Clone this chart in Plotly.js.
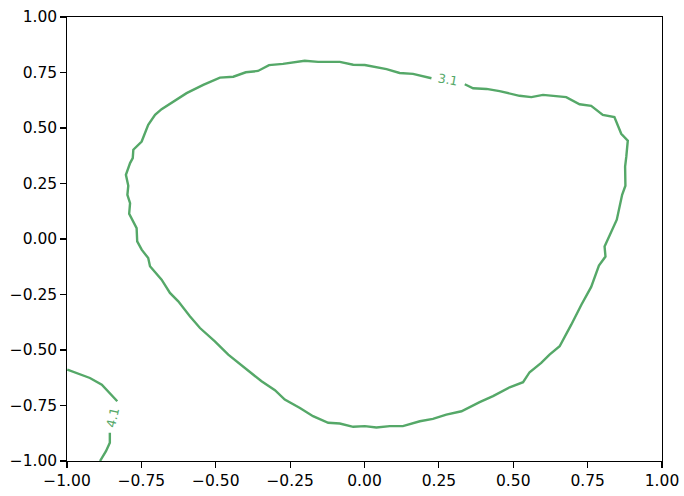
<!DOCTYPE html>
<html>
<head>
<meta charset="utf-8">
<script src="https://cdn.plot.ly/plotly-3.0.1.min.js"></script>
<style>
  html, body { margin: 0; padding: 0; background: #ffffff; }
  #chart { width: 684px; height: 496px; }
</style>
</head>
<body>
<div id="chart"></div>
<script>
// contour levels shown in the labels
const levels = [3.1, 4.1];

// level 3.1 contour (open at the label)
const ringX = [0.337, 0.365, 0.410, 0.454, 0.521, 0.561, 0.600, 0.678, 0.723, 0.762,
  0.801, 0.840, 0.863, 0.885, 0.880, 0.876, 0.877, 0.866, 0.848, 0.829,
  0.807, 0.810, 0.788, 0.762, 0.729, 0.695, 0.656, 0.622, 0.594, 0.555,
  0.533, 0.488, 0.432, 0.387, 0.326, 0.275, 0.230, 0.186, 0.129, 0.085,
  0.040, 0.001, -0.038, -0.083, -0.122, -0.173, -0.217, -0.268, -0.301, -0.346,
  -0.396, -0.458, -0.503, -0.553, -0.587, -0.626, -0.654, -0.682, -0.721, -0.727,
  -0.749, -0.764, -0.766, -0.777, -0.791, -0.788, -0.797, -0.794, -0.802, -0.788,
  -0.779, -0.777, -0.749, -0.727, -0.704, -0.682, -0.643, -0.598, -0.542, -0.486,
  -0.441, -0.399, -0.358, -0.321, -0.274, -0.201, -0.156, -0.083, -0.038, 0.001,
  0.074, 0.118, 0.163, 0.225];
const ringY = [0.697, 0.679, 0.676, 0.666, 0.645, 0.639, 0.649, 0.639, 0.607, 0.600,
  0.559, 0.549, 0.474, 0.443, 0.371, 0.326, 0.240, 0.199, 0.087, 0.034,
  -0.034, -0.079, -0.120, -0.216, -0.296, -0.386, -0.483, -0.521, -0.558, -0.600,
  -0.645, -0.668, -0.708, -0.735, -0.776, -0.791, -0.810, -0.821, -0.843, -0.843,
  -0.849, -0.843, -0.846, -0.831, -0.828, -0.798, -0.761, -0.723, -0.681, -0.641,
  -0.588, -0.521, -0.461, -0.401, -0.348, -0.281, -0.243, -0.183, -0.123, -0.086,
  -0.048, -0.011, 0.049, 0.079, 0.114, 0.162, 0.199, 0.240, 0.289, 0.342,
  0.364, 0.402, 0.439, 0.514, 0.559, 0.585, 0.619, 0.657, 0.694, 0.727,
  0.731, 0.751, 0.757, 0.783, 0.789, 0.803, 0.798, 0.798, 0.785, 0.784,
  0.765, 0.748, 0.744, 0.724];

// level 4.1 contour in the lower left corner, two pieces either side of its label
const cornerTopX = [-0.999, -0.923, -0.883, -0.856, -0.831];
const cornerTopY = [-0.588, -0.626, -0.656, -0.693, -0.731];
const cornerLowX = [-0.856, -0.856, -0.869, -0.889];
const cornerLowY = [-0.873, -0.918, -0.956, -1.0];

// axis ticks
const tickVals = [-1, -0.75, -0.5, -0.25, 0, 0.25, 0.5, 0.75, 1];
const tickText = ["\u22121.00", "\u22120.75", "\u22120.50", "\u22120.25", "0.00", "0.25", "0.50", "0.75", "1.00"];

const green = "#55a868";
const font = "DejaVu Sans, sans-serif";

function contourTrace(x, y) {
    return {
        x: x,
        y: y,
        type: "scatter",
        mode: "lines",
        hoverinfo: "none",
        showlegend: false,
        line: { color: green, width: 2.4 }
    };
}

const traces = [
    contourTrace(ringX, ringY),
    contourTrace(cornerTopX, cornerTopY),
    contourTrace(cornerLowX, cornerLowY)
];

const axisStyle = {
    range: [-1, 1],
    tickvals: tickVals,
    ticktext: tickText,
    showgrid: false,
    zeroline: false,
    showline: true,
    mirror: true,
    linecolor: "#000000",
    linewidth: 1.2,
    ticks: "outside",
    ticklen: 5.5,
    tickwidth: 1.2,
    tickcolor: "#000000",
    tickfont: { family: font, size: 15.5, color: "#000000" }
};

const layout = {
    width: 684,
    height: 496,
    paper_bgcolor: "#ffffff",
    plot_bgcolor: "#ffffff",
    font: { family: font, color: "#000000" },
    margin: { l: 67, r: 21.5, t: 17, b: 34.5 },
    xaxis: Object.assign({}, axisStyle),
    yaxis: Object.assign({}, axisStyle),
    annotations: [
        {
            x: 0.281, y: 0.72,
            text: levels[0].toFixed(1),
            showarrow: false,
            textangle: 10,
            font: { family: font, size: 12.5, color: green }
        },
        {
            x: -0.846, y: -0.805,
            text: levels[1].toFixed(1),
            showarrow: false,
            textangle: -77,
            font: { family: font, size: 12.5, color: green }
        }
    ]
};

Plotly.newPlot("chart", traces, layout, { displayModeBar: false, staticPlot: true });
</script>
</body>
</html>
